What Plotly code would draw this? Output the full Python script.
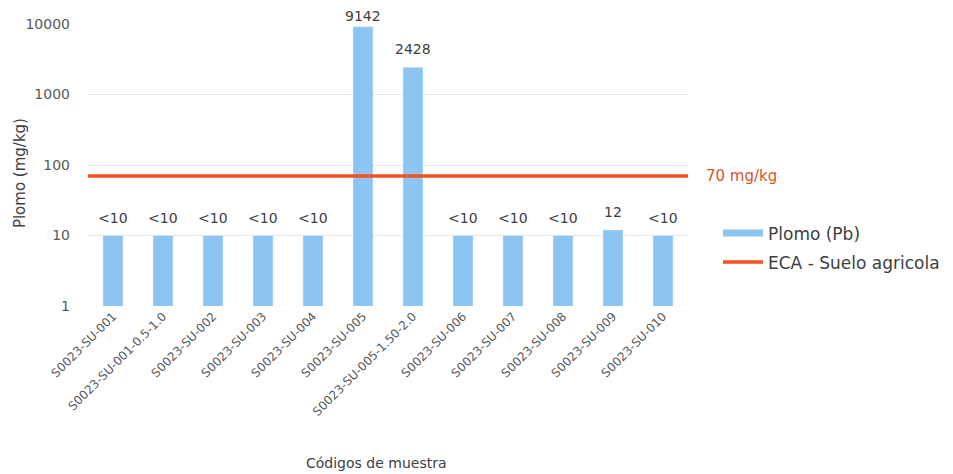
import math
import plotly.graph_objects as go

categories = ["S0023-SU-001", "S0023-SU-001-0.5-1.0", "S0023-SU-002", "S0023-SU-003",
              "S0023-SU-004", "S0023-SU-005", "S0023-SU-005-1.50-2.0", "S0023-SU-006",
              "S0023-SU-007", "S0023-SU-008", "S0023-SU-009", "S0023-SU-010"]
plomo_values = [10, 10, 10, 10, 10, 9142, 2428, 10, 10, 10, 12, 10]
plomo_labels = ["<10", "<10", "<10", "<10", "<10", "9142", "2428", "<10", "<10", "<10", "12", "<10"]
eca_limit = 70
eca_label = "70 mg/kg"
ytick_vals = [1, 10, 100, 1000, 10000]
ytick_text = ["1", "10", "100", "1000", "10000"]
x_title = "Códigos de muestra"
y_title = "Plomo (mg/kg)"

blue = "#8CC4F2"
orange = "#F4511E"
font_fam = "DejaVu Sans, sans-serif"
px_per_decade = 70.5

fig = go.Figure()
fig.add_trace(go.Bar(
    x=categories, y=plomo_values,
    marker=dict(color=blue), name="Plomo (Pb)", showlegend=False,
))
# legend proxy for bar (line-like swatch as in reference)
fig.add_trace(go.Scatter(x=[None], y=[None], mode="lines", line=dict(color=blue, width=7),
                         name="Plomo (Pb)", legendgroup="a"))
fig.add_trace(go.Scatter(
    x=[0, 1], y=[eca_limit, eca_limit], mode="lines", xaxis="x2",
    line=dict(color=orange, width=3.5), name="ECA - Suelo agricola", legendgroup="b",
))

# data labels above bars (log axis -> annotation y in log10 units)
for cat, val, lab in zip(categories, plomo_values, plomo_labels):
    ly = math.log10(val)
    shift = min(18, (4.11 - ly) * px_per_decade)
    fig.add_annotation(x=cat, y=ly, yshift=shift, xref="x", yref="y",
                       text=lab, showarrow=False, yanchor="middle",
                       font=dict(size=14, color="#404040", family=font_fam))

fig.add_annotation(x=1, xref="paper", y=math.log10(eca_limit), yref="y", xshift=16,
                   text=eca_label, showarrow=False, xanchor="left",
                   font=dict(size=15, color="#D9552B", family=font_fam))
fig.add_annotation(x=-0.113, xref="paper", y=0.472, yref="paper", textangle=-90,
                   text=y_title, showarrow=False, xanchor="center", yanchor="middle",
                   font=dict(size=15, color="#404040", family=font_fam))
fig.add_annotation(x=0.48, xref="paper", y=-0.557, yref="paper",
                   text=x_title, showarrow=False, xanchor="center", yanchor="middle",
                   font=dict(size=14, color="#404040", family=font_fam))

fig.update_layout(
    width=953, height=474,
    margin=dict(l=80, r=273, t=16, b=176, autoexpand=False),
    paper_bgcolor="white", plot_bgcolor="white",
    bargap=0.6,
    font=dict(family=font_fam, color="#595959", size=12),
    xaxis=dict(tickangle=-45, tickfont=dict(size=12, color="#595959"), automargin=False,
               showgrid=False, showline=False, ticks=""),
    xaxis2=dict(overlaying="x", range=[0, 1], visible=False),
    yaxis=dict(type="log", range=[0, 4], tickvals=ytick_vals, ticktext=ytick_text,
               showgrid=True, gridcolor="#E6E6E6", zeroline=False, showline=False,
               tickfont=dict(size=14, color="#595959"), automargin=False,
               ticklabelstandoff=17),
    legend=dict(x=1.05, y=0.206, xanchor="left", yanchor="middle", itemwidth=40,
                font=dict(size=17, color="#404040"), tracegroupgap=4),
)

fig.write_html("out.html")
